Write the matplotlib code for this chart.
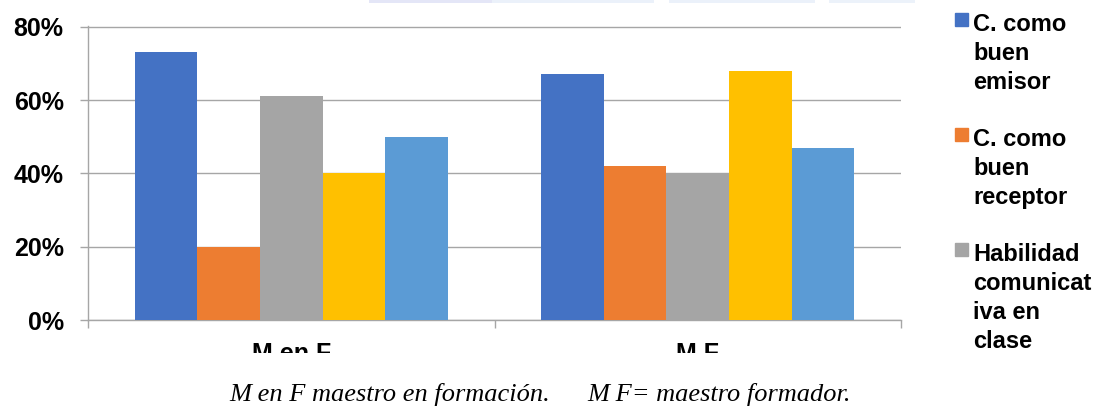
import matplotlib
matplotlib.use("Agg")
import matplotlib.pyplot as plt
from matplotlib.patches import Rectangle
from matplotlib.transforms import Bbox, TransformedBbox
from matplotlib.ticker import FixedLocator, FuncFormatter

# ---- data -------------------------------------------------------------
categories = ["M en F", "M F"]
emisor = [0.73, 0.67]
receptor = [0.20, 0.42]
habilidad = [0.61, 0.40]
serie_4 = [0.40, 0.68]
serie_5 = [0.50, 0.47]
series_values = [emisor, receptor, habilidad, serie_4, serie_5]
series_colors = ["#4472C4", "#ED7D31", "#A5A5A5", "#FFC000", "#5B9BD5"]
legend_labels = ["C. como\nbuen\nemisor",
                 "C. como\nbuen\nreceptor",
                 "Habilidad\ncomunicat\niva en\nclase"]
y_ticks = [0.0, 0.2, 0.4, 0.6, 0.8]
caption_left = "M en F maestro en formación."
caption_right = "M F= maestro formador."

# ---- figure -----------------------------------------------------------
W, H = 1098, 407
fig = plt.figure(figsize=(W / 100, H / 100), dpi=100)
fig.patch.set_facecolor("white")
plt.rcParams["font.family"] = ["Liberation Sans", "DejaVu Sans"]


def fx(px):
    return px / W


def fy(py):
    return 1 - py / H


ax = fig.add_axes([fx(88), fy(320), fx(901) - fx(88),
                   (fy(26.7) - fy(320)) * 0.801 / 0.8])

grid_gray = "#A6A6A6"
n = len(series_values)
gap = 1.5  # gap between groups, in bar widths
bw = 1.0 / (n + gap)
for i, (vals, col) in enumerate(zip(series_values, series_colors)):
    offs = (i - (n - 1) / 2) * bw
    ax.bar([k + offs for k in range(len(categories))], vals, width=bw,
           color=col, edgecolor="none", zorder=3)

ax.set_xlim(-0.5, len(categories) - 0.5)
ax.set_ylim(0, 0.801)

# y axis
ax.yaxis.set_major_locator(FixedLocator(y_ticks))
ax.yaxis.set_major_formatter(FuncFormatter(lambda v, p: f"{round(v * 100)}%"))
ax.tick_params(axis="y", direction="out", length=6, width=1.0,
               color=grid_gray, pad=11.5, labelsize=18)
for lbl in ax.get_yticklabels():
    lbl.set_fontweight("bold")
ax.yaxis.grid(True, color=grid_gray, linewidth=1.0, zorder=0)
ax.set_axisbelow(True)

# x axis: boundary ticks, category labels at group centres
ax.set_xticks([k - 0.5 for k in range(len(categories) + 1)])
ax.set_xticklabels([])
ax.set_xticks(range(len(categories)), minor=True)
ax.set_xticklabels(categories, minor=True, fontweight="bold", fontsize=18)
ax.tick_params(axis="x", which="major", direction="out", length=6,
               width=1.0, color=grid_gray)
ax.tick_params(axis="x", which="minor", length=0, pad=16)

clip = TransformedBbox(Bbox([[0, fy(353)], [1, 1]]), fig.transFigure)
for lbl in ax.xaxis.get_minorticklabels():
    lbl.set_clip_on(True)
    lbl.set_clip_box(clip)

for side in ["top", "right"]:
    ax.spines[side].set_visible(False)
for side in ["left", "bottom"]:
    ax.spines[side].set_color(grid_gray)
    ax.spines[side].set_linewidth(1.0)

# legend (first three series)
entry_tops = [12.7, 128, 243]
for lab, col, top in zip(legend_labels, series_colors, entry_tops):
    fig.patches.append(Rectangle((fx(955), fy(top + 12.8)), fx(13), 12.8 / H,
                                 transform=fig.transFigure, color=col))
    fig.text(fx(973), fy(top), lab, fontsize=17, fontweight="bold",
             ha="left", va="top", linespacing=1.33)

# faint band along the top edge
for x0, x1, c in [(369, 492, "#E4E6F7"), (492, 654, "#EBF1FA"),
                  (669, 815, "#EBF1FA"), (829, 915, "#ECF2FA")]:
    fig.patches.append(Rectangle((fx(x0), fy(3)), fx(x1 - x0), 3 / H,
                                 transform=fig.transFigure, color=c, lw=0))

# caption
cap_font = dict(family=["Liberation Serif", "DejaVu Serif"], style="italic",
                fontsize=19, va="baseline", ha="left")
fig.text(fx(229), fy(401), caption_left, **cap_font)
fig.text(fx(587), fy(401), caption_right, **cap_font)

fig.savefig("out.png", dpi=100)
